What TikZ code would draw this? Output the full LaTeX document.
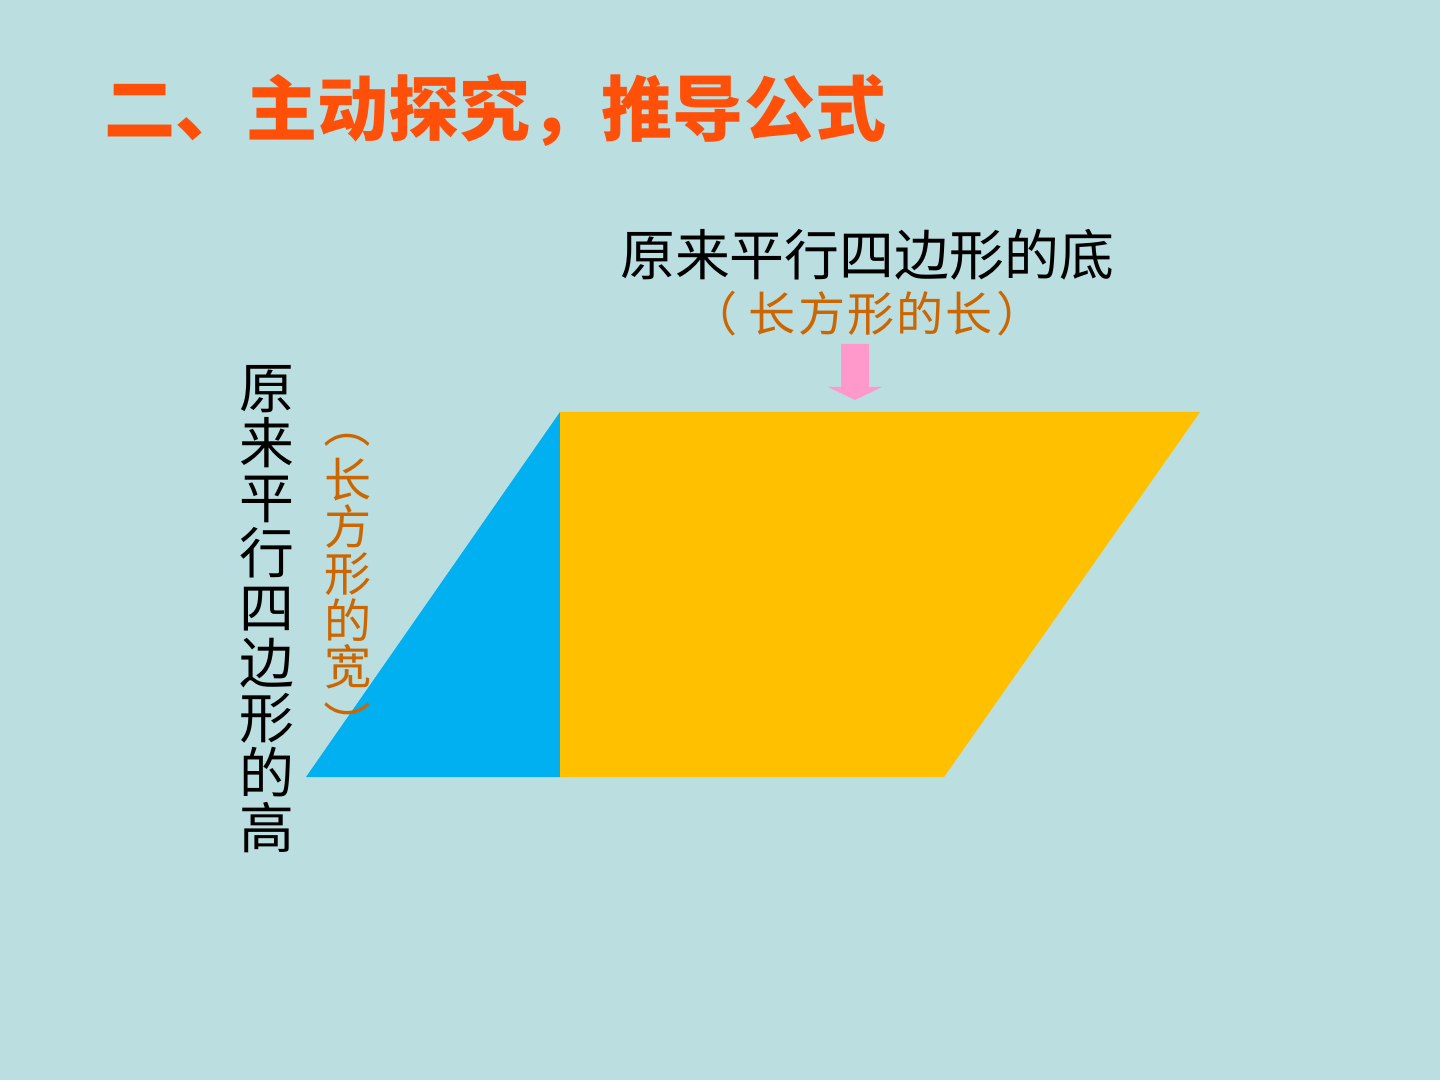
\documentclass[tikz,border=0pt]{standalone}
\usepackage{fontspec}
\setmainfont{Noto Sans CJK SC}
\definecolor{bg}{RGB}{187,222,224}
\definecolor{titlec}{RGB}{255,80,10}
\definecolor{brownc}{RGB}{204,102,0}
\definecolor{bluec}{RGB}{0,176,240}
\definecolor{goldc}{RGB}{255,192,0}
\definecolor{pinkc}{RGB}{255,153,204}
\begin{document}
\begin{tikzpicture}[x=0.01cm,y=-0.01cm,
  titletxt/.style={font=\fontsize{20.2}{20.2}\selectfont\bfseries, text=titlec, inner sep=0},
  blacktxt/.style={font=\fontsize{15.6}{15.6}\selectfont, text=black, inner sep=0},
  browntxt/.style={font=\fontsize{13.4}{13.4}\selectfont, text=brownc, inner sep=0},
  vblack/.style={blacktxt, align=center, font=\fontsize{15.6}{15.65}\selectfont},
  vbrown/.style={browntxt, align=center, font=\fontsize{13.4}{13.3}\selectfont}]
\fill[bg] (0,0) rectangle (1440,1080);
\useasboundingbox (0,0) rectangle (1440,1080);
% shapes
\coordinate (BL) at (306,777);
\coordinate (TL) at (560,412);
\coordinate (TR) at (1200,412);
\coordinate (BR) at (944,777);
\coordinate (BM) at (560,777);
\fill[bluec] (BL) -- (TL) -- (BM) -- cycle;
\fill[goldc] (TL) -- (TR) -- (BR) -- (BM) -- cycle;
% arrow
\fill[pinkc] (841,344) -- (869,344) -- (869,387) -- (882,387) -- (855,400) -- (828,387) -- (841,387) -- cycle;
% texts
\node[titletxt, anchor=west] (title) at (104,110) {二、主动探究，推导公式};
\node[blacktxt] (base) at (867,255) {原来平行四边形的底};
\node[browntxt] (baselen) at (871,314) {长\hspace{0.6pt}方\hspace{0.6pt}形\hspace{0.6pt}的\hspace{0.6pt}长};
\node[browntxt] (blp) at (714,314) {（};
\node[browntxt] (brp) at (1020,314) {）};
\node[vblack] (height) at (267,609) {原\\来\\平\\行\\四\\边\\形\\的\\高};
\node[browntxt, rotate=-90] (lp) at (347,425) {（};
\node[vbrown] (width) at (348,574) {长\\方\\形\\的\\宽};
\node[browntxt, rotate=-90] (rp) at (347,724) {）};
\end{tikzpicture}
\end{document}
